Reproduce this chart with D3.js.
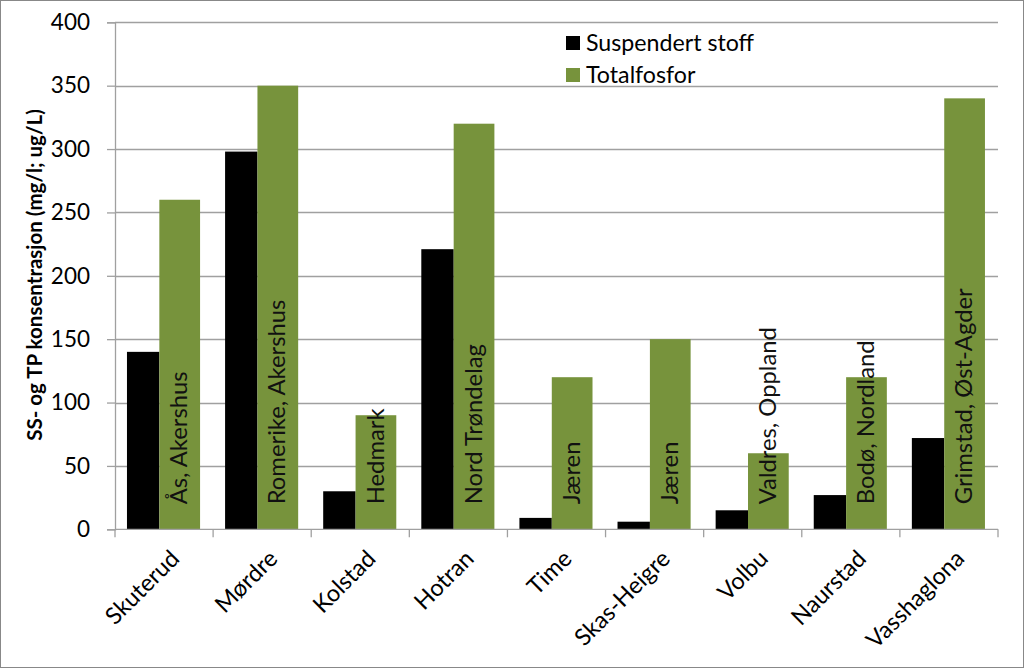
<!DOCTYPE html>
<html>
<head>
<meta charset="utf-8">
<script src="https://cdn.jsdelivr.net/npm/d3@7"></script>
<style>
  html, body { margin: 0; padding: 0; background: #fff; }
  svg { display: block; }
  text { font-family: Lato, "Open Sans", sans-serif; }
</style>
</head>
<body>
<svg id="chart" width="1024" height="668"></svg>
<script>
const categories = ["Skuterud", "Mørdre", "Kolstad", "Hotran", "Time", "Skas-Heigre", "Volbu", "Naurstad", "Vasshaglona"];
const suspendertStoff = [140, 298, 30, 221, 9, 6, 15, 27, 72];
const totalfosfor = [260, 350, 90, 320, 120, 150, 60, 120, 340];
const regionLabels = ["Ås, Akershus", "Romerike, Akershus", "Hedmark", "Nord Trøndelag", "Jæren", "Jæren", "Valdres, Oppland", "Bodø, Nordland", "Grimstad, Øst-Agder"];
const yTicks = [0, 50, 100, 150, 200, 250, 300, 350, 400];
const seriesNames = ["Suspendert stoff", "Totalfosfor"];
const yTitle = "SS- og TP konsentrasjon (mg/l; ug/L)";

const colors = { ss: "#000000", tp: "#77933c" };
const gridColor = "#a0a0a0";

const svg = d3.select("#chart");
const W = 1024, H = 668;
const plotLeft = 115, plotRight = 998, plotTop = 22.3, plotBottom = 529.3;

// outer border
svg.append("rect").attr("x", 0.5).attr("y", 0.5).attr("width", W - 1).attr("height", H - 1)
  .attr("fill", "#fff").attr("stroke", "#888").attr("stroke-width", 1);

const x = d3.scaleBand().domain(categories).range([plotLeft, plotRight]).padding(0);
const y = d3.scaleLinear().domain([0, 400]).range([plotBottom, plotTop]);
const bw = x.bandwidth();

// gridlines
svg.append("g").selectAll("line").data(yTicks.filter(d => d > 0)).join("line")
  .attr("x1", plotLeft).attr("x2", plotRight)
  .attr("y1", d => Math.round(y(d)) + 0.5).attr("y2", d => Math.round(y(d)) + 0.5)
  .attr("stroke", gridColor).attr("stroke-width", 1.3);

// y axis
const yAxis = d3.axisLeft(y).tickValues(yTicks).tickSize(8).tickPadding(17);
const gy = svg.append("g").attr("transform", `translate(${plotLeft},0)`).call(yAxis);
gy.select(".domain").attr("stroke", gridColor).attr("stroke-width", 1.3);
gy.selectAll(".tick line").attr("stroke", gridColor).attr("stroke-width", 1.3);
gy.selectAll(".tick text").attr("font-size", 22.5).attr("fill", "#000")
  .style("font-family", "Lato, sans-serif");

// bars
const data = categories.map((c, i) => ({ c, ss: suspendertStoff[i], tp: totalfosfor[i], lab: regionLabels[i] }));
const blackOff = bw * 0.122, blackW = bw * 0.33, greenW = bw * 0.415;

svg.append("g").selectAll("rect").data(data).join("rect")
  .attr("x", d => x(d.c) + blackOff)
  .attr("width", blackW)
  .attr("y", d => y(d.ss))
  .attr("height", d => y(0) - y(d.ss))
  .attr("fill", colors.ss);

svg.append("g").selectAll("rect").data(data).join("rect")
  .attr("x", d => x(d.c) + blackOff + blackW)
  .attr("width", greenW)
  .attr("y", d => y(d.tp))
  .attr("height", d => y(0) - y(d.tp))
  .attr("fill", colors.tp);

// labels inside green bars
svg.append("g").selectAll("text").data(data).join("text")
  .attr("transform", d => `translate(${x(d.c) + blackOff + blackW + 28},${y(0) - 25}) rotate(-90)`)
  .attr("text-anchor", "start")
  .attr("font-size", 23.8)
  .attr("fill", "#111")
  .text(d => d.lab);

// x axis
const xb = svg.append("g").attr("transform", `translate(0,${plotBottom})`);
xb.append("line").attr("x1", plotLeft).attr("x2", plotRight).attr("y1", 0).attr("y2", 0)
  .attr("stroke", gridColor).attr("stroke-width", 1.3);
const boundaries = categories.map(c => x(c)).concat([x(categories[categories.length - 1]) + bw]);
xb.selectAll("line.tk").data(boundaries).join("line").attr("class", "tk")
  .attr("x1", d => d).attr("x2", d => d).attr("y1", 0).attr("y2", 8)
  .attr("stroke", gridColor).attr("stroke-width", 1.3);
xb.selectAll("text").data(categories).join("text")
  .attr("transform", c => `translate(${x(c) + bw / 2 + 5},${19}) rotate(-45)`)
  .attr("text-anchor", "end")
  .attr("dy", "0.71em")
  .attr("font-size", 23.5)
  .attr("fill", "#000")
  .text(c => c);

// y title
svg.append("text")
  .attr("transform", `translate(42,${(85 + 465) / 2}) rotate(-90)`)
  .attr("text-anchor", "middle")
  .attr("font-size", 20.5)
  .attr("font-weight", "bold")
  .attr("fill", "#000")
  .text(yTitle);

// legend
const lg = svg.append("g");
const legendColors = [colors.ss, colors.tp];
lg.selectAll("rect").data(seriesNames).join("rect")
  .attr("x", 566).attr("y", (d, i) => 36 + i * 32)
  .attr("width", 14).attr("height", 14)
  .attr("fill", (d, i) => legendColors[i]);
lg.selectAll("text").data(seriesNames).join("text")
  .attr("x", 586).attr("y", (d, i) => 51 + i * 32)
  .attr("font-size", 23.2).attr("fill", "#000")
  .text(d => d);
</script>
</body>
</html>
